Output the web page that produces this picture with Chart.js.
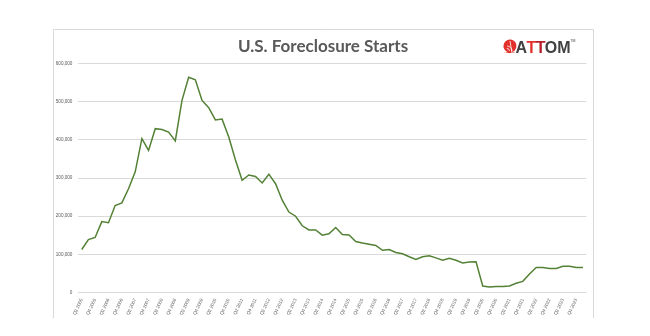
<!DOCTYPE html>
<html>
<head>
<meta charset="utf-8">
<title>U.S. Foreclosure Starts</title>
<script src="https://cdn.jsdelivr.net/npm/chart.js@4"></script>
<style>
  html, body { margin: 0; padding: 0; background: #fff; }
  #wrap { width: 650px; height: 336px; }
</style>
</head>
<body>
<div id="wrap"><canvas id="chartStarts" width="650" height="336"></canvas></div>
<script>
// quarterly foreclosure starts, Q2 2005 - Q1 2024
const trimestres = [];
for (let y = 2005; y <= 2024; y++) {
  for (let q = 1; q <= 4; q++) {
    if (y === 2005 && q === 1) continue;
    if (y === 2024 && q > 1) break;
    trimestres.push(`Q${q} ${y}`);
  }
}

const inicios = [
  113000, 139000, 144500, 186000, 183000, 228000, 235000, 272000,
  316000, 403000, 372000, 429000, 427000, 420000, 397000, 503000,
  563500, 557000, 503000, 484000, 452000, 454000, 407000, 347000,
  294000, 308000, 304000, 287000, 310000, 285000, 242000, 211000,
  200000, 175000, 164000, 164000, 150500, 154000, 170500, 152000,
  151000, 134000, 130000, 127000, 123500, 111000, 113000, 105000,
  102000, 94000, 87000, 94000, 96500, 91000, 85000, 90000,
  85000, 78000, 80000, 81000, 17500, 15000, 16500, 16500,
  17500, 24500, 29700, 49000, 66000, 66000, 63600, 63600,
  69000, 69000, 66000, 66000,
];

const ticksY = [0, 100000, 200000, 300000, 400000, 500000, 600000];

const colorLinea = "#538135";
const colorTexto = "#595959";
const colorGrid = "#d9d9d9";

/* marco, titulo y logo dibujados sobre el canvas */
const decorado = {
  id: "decorado",
  beforeDraw(chart) {
    const ctx = chart.ctx;
    ctx.save();
    ctx.strokeStyle = colorGrid;
    ctx.lineWidth = 1;
    ctx.beginPath();
    ctx.moveTo(53.5, 318);
    ctx.lineTo(53.5, 29.5);
    ctx.lineTo(593.5, 29.5);
    ctx.lineTo(593.5, 318);
    ctx.stroke();
    ctx.restore();
  },
  afterDraw(chart) {
    const ctx = chart.ctx;
    ctx.save();
    ctx.fillStyle = colorTexto;
    ctx.font = "bold 17px Lato";
    ctx.textAlign = "center";
    ctx.textBaseline = "alphabetic";
    ctx.fillText("U.S. Foreclosure Starts", 323, 52);

    // logo ATTOM
    ctx.fillStyle = "#e2302b";
    ctx.beginPath();
    ctx.arc(510, 46, 6.5, Math.PI * 0.6, Math.PI * 2.4);
    ctx.lineTo(516, 53);
    ctx.lineTo(504, 53);
    ctx.closePath();
    ctx.fill();
    ctx.strokeStyle = "#fff";
    ctx.lineWidth = 0.8;
    ctx.beginPath();
    ctx.arc(507, 51, 5, -Math.PI * 0.5, 0);
    ctx.moveTo(507, 49);
    ctx.arc(507, 51, 2.5, -Math.PI * 0.5, 0);
    ctx.moveTo(510, 41);
    ctx.lineTo(512, 53);
    ctx.stroke();

    ctx.font = "bold 16px 'Liberation Sans Narrow', 'Liberation Sans'";
    ctx.textAlign = "left";
    let x = 515.5;
    const partes = [["A", "#414141"], ["T", "#e2302b"], ["T", "#b5202a"], ["OM", "#414141"]];
    partes.forEach(([t, c]) => {
      ctx.fillStyle = c;
      ctx.fillText(t, x, 53.3);
      x += ctx.measureText(t).width - 0.6;
    });
    ctx.fillStyle = "#414141";
    ctx.font = "3.5px 'Liberation Sans'";
    ctx.fillText("TM", x + 0.5, 42);
    ctx.restore();
  },
};

const ctxStarts = document.getElementById("chartStarts").getContext("2d");

const chartStarts = new Chart(ctxStarts, {
  type: "line",
  data: {
    labels: trimestres,
    datasets: [
      {
        label: "Foreclosure Starts",
        data: inicios,
        borderColor: colorLinea,
        borderWidth: 1.5,
        pointRadius: 0,
        tension: 0,
        fill: false,
      },
    ],
  },
  options: {
    responsive: false,
    animation: false,
    layout: {
      padding: { left: 55, right: 63.7, top: 63.3, bottom: 0 },
    },
    plugins: {
      legend: { display: false },
      tooltip: { enabled: false },
    },
    scales: {
      x: {
        offset: true,
        grid: { display: false, drawTicks: false },
        border: { display: false },
        ticks: {
          autoSkip: false,
          minRotation: 65,
          maxRotation: 65,
          padding: 5,
          color: colorTexto,
          font: { family: "'Liberation Sans'", size: 4.6 },
          callback(value, index) {
            return index % 2 === 0 ? this.getLabelForValue(value) : "";
          },
        },
        afterFit(scale) {
          scale.height = 43.3;
        },
      },
      y: {
        min: 0,
        max: ticksY[ticksY.length - 1],
        afterBuildTicks(scale) {
          scale.ticks = ticksY.map((v) => ({ value: v }));
        },
        grid: { color: colorGrid, lineWidth: 1, drawTicks: false },
        border: { display: false },
        ticks: {
          padding: 6,
          color: colorTexto,
          font: { family: "'Liberation Sans'", size: 4.6 },
          callback: (v) => v.toLocaleString("en-US"),
        },
        afterFit(scale) {
          scale.width = 23.4;
        },
      },
    },
  },
  plugins: [decorado],
});
</script>
</body>
</html>
